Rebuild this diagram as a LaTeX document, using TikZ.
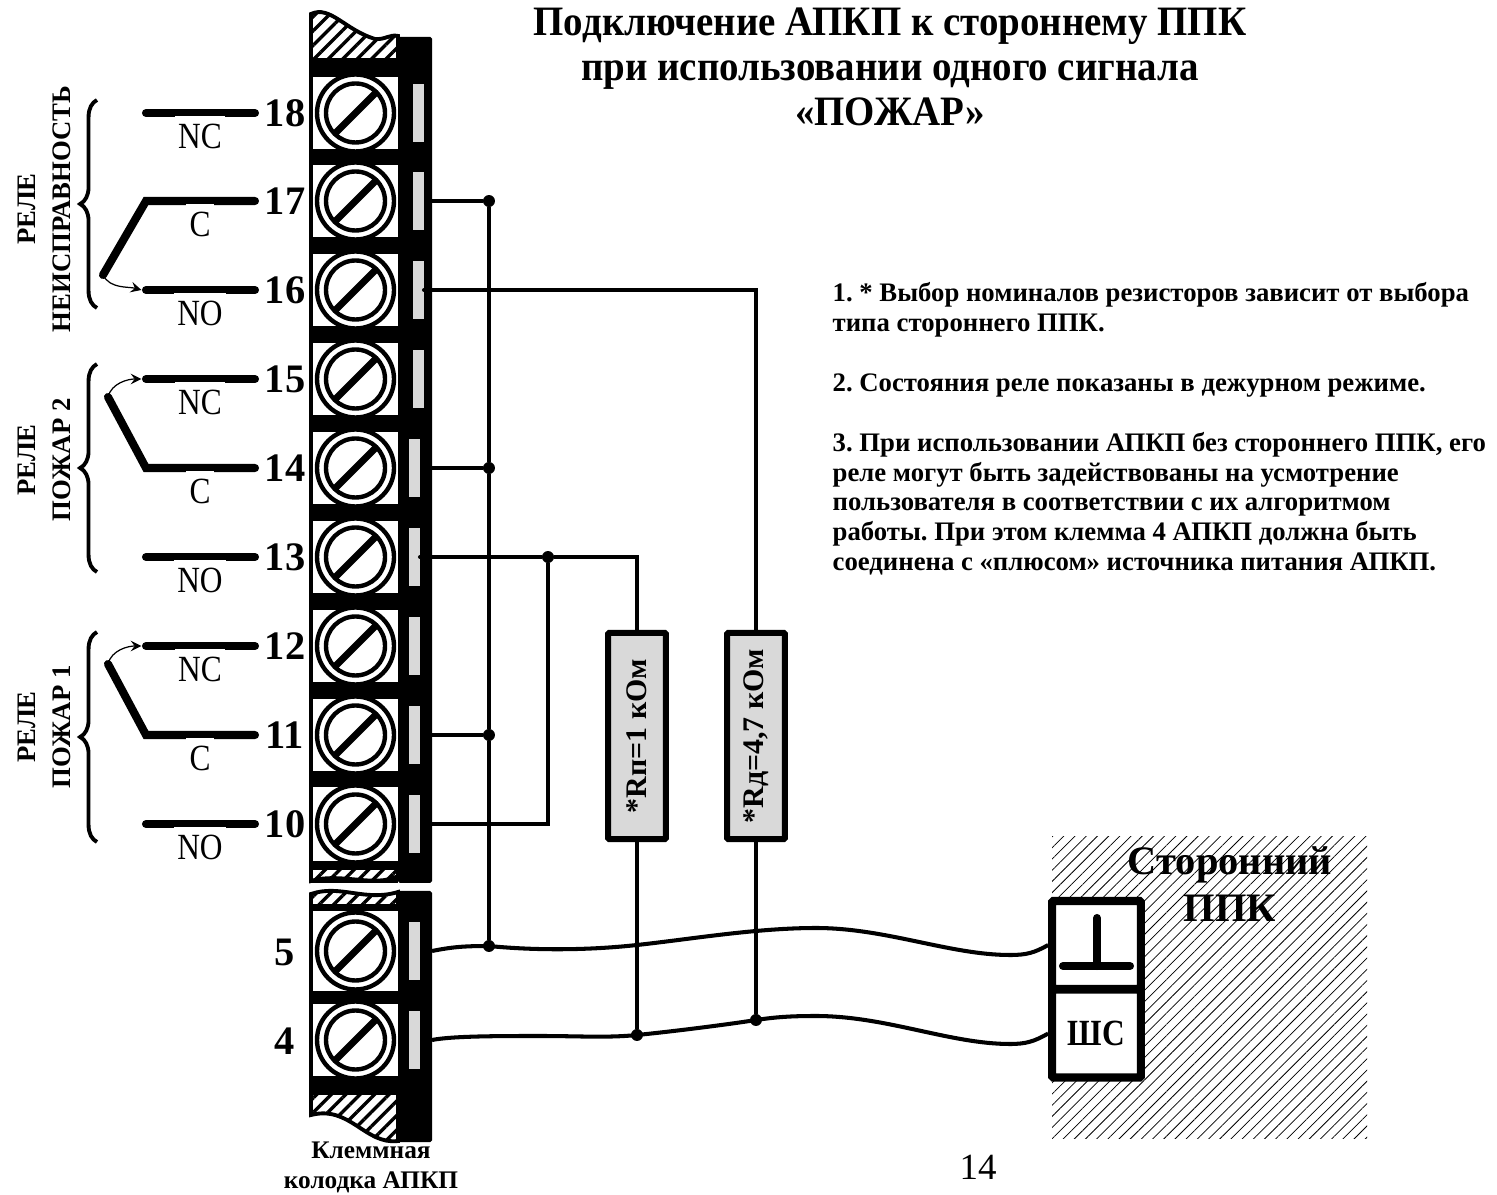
\documentclass[tikz,border=0pt]{standalone}
\usepackage{fontspec}
\setmainfont{Liberation Serif}
\newfontfamily\labfont[FakeStretch=0.85]{Liberation Serif}
\newfontfamily\titlefont[FakeStretch=0.93]{Liberation Serif}
\usetikzlibrary{patterns.meta,decorations.pathreplacing}
\definecolor{stripgray}{HTML}{D9D9D9}
\tikzset{
  wire/.style={line width=1.15pt,line cap=round},
  contact/.style={line width=2.3pt,line cap=round,line join=miter},
  dot/.style={circle,fill=black,inner sep=0pt,minimum size=3.4pt},
  termlabel/.style={font=\bfseries\fontsize{11.5}{12}\selectfont,inner sep=0pt},
  sidelabel/.style={font=\bfseries\fontsize{7.6}{9.9}\selectfont,rotate=90,align=center,inner sep=0pt},
  contactlabel/.style={font=\labfont\fontsize{10.5}{12}\selectfont,fill=white,anchor=north,inner xsep=1pt,inner ysep=2.4pt},
  resistor/.style={draw,line width=1.7pt,fill=stripgray,rounded corners=0.3pt,rotate=90,minimum width=58.7pt,minimum height=16.4pt,inner sep=0pt,font=\bfseries\fontsize{8.5}{10}\selectfont},
  ppkbox/.style={draw,line width=2.3pt,fill=white,rounded corners=0.3pt,minimum width=25.2pt,minimum height=25pt,inner sep=0pt},
  hatch/.style={pattern={Lines[angle=45,distance=2.9pt,line width=0.95pt]}},
  relaybrace/.style={line width=1.1pt,decorate,decoration={brace,amplitude=4.8pt,aspect=0.5}}
}
\begin{document}
\begin{tikzpicture}[x=0.01cm,y=-0.01cm,>=stealth]
\useasboundingbox (0,0) rectangle (1497,1195);

% Заголовок и примечания
\node[font=\titlefont\bfseries\fontsize{11.9}{12.76}\selectfont,align=center,inner sep=0pt] (title) at (890,67) {Подключение АПКП к стороннему ППК\\при использовании одного сигнала\\«ПОЖАР»};
\node[font=\frenchspacing\bfseries\fontsize{7.6}{8.5}\selectfont,align=left,inner sep=0pt,anchor=west] (notes) at (832,429) {1. * Выбор номиналов резисторов зависит от выбора\\типа стороннего ППК.\\[8.5pt]2. Состояния реле показаны в дежурном режиме.\\[8.5pt]3. При использовании АПКП без стороннего ППК, его\\реле могут быть задействованы на усмотрение\\пользователя в соответствии с их алгоритмом\\работы. При этом клемма 4 АПКП должна быть\\соединена с «плюсом» источника питания АПКП.};
\node[font=\fontsize{10.5}{12}\selectfont,inner sep=0pt] (pagenum) at (978,1167) {14};
\node[font=\bfseries\fontsize{7.2}{8.5}\selectfont,align=center,inner sep=0pt] (blockname) at (371,1167) {Клеммная\\колодка АПКП};

% Штриховка стороннего ППК
\fill[pattern={Lines[angle=45,distance=2.25pt,line width=0.22pt]}] (1052,837) rectangle (1367,1138);
\node[font=\bfseries\fontsize{11.5}{13.4}\selectfont,align=center,inner sep=0pt] (ppk) at (1230,884) {Сторонний\\ППК};

% Корпус клеммной колодки
\fill[rounded corners=0.5pt] (398,37) rectangle (432,883);
\fill (309,60) rectangle (398,883);
\fill[rounded corners=0.5pt] (398,891) rectangle (432,1142);
\fill (309,906) rectangle (398,1093);

% Обрывы колодки
\filldraw[fill=white,line width=1.1pt] (311,60) -- (311,14) .. controls (330,5) and (345,30) .. (375,39) .. controls (385,40) and (390,34) .. (398,36) -- (398,60) -- cycle;
\fill[hatch] (311,60) -- (311,14) .. controls (330,5) and (345,30) .. (375,39) .. controls (385,40) and (390,34) .. (398,36) -- (398,60) -- cycle;
\filldraw[fill=white,line width=1.1pt] (311,868) -- (398,868) -- (398,876) .. controls (375,888) and (340,872) .. (311,881) -- cycle;
\fill[hatch] (311,868) -- (398,868) -- (398,876) .. controls (375,888) and (340,872) .. (311,881) -- cycle;
\filldraw[fill=white,line width=1.1pt] (311,906) -- (311,894) .. controls (340,884) and (365,902) .. (398,892) -- (398,906) -- cycle;
\fill[hatch] (311,906) -- (311,894) .. controls (340,884) and (365,902) .. (398,892) -- (398,906) -- cycle;
\filldraw[fill=white,line width=1.1pt] (311,1093) -- (398,1093) -- (398,1141) .. controls (365,1145) and (350,1105) .. (311,1115) -- cycle;
\fill[hatch] (311,1093) -- (398,1093) -- (398,1141) .. controls (365,1145) and (350,1105) .. (311,1115) -- cycle;

% Клеммы
\foreach \n/\y/\sx/\h in {18/113/418/20.7,17/201/418/20.7,16/290/418/20.7,15/379/418/20.7,14/468/414/20.7,13/557/414/20.7,12/646/414/20.7,11/735/414/20.7,10/824/414/21.3,5/951/414/22.6,4/1040/414/20.7}{
  \node[fill=white,minimum width=24.1pt,minimum height=\h pt,inner sep=0pt] (t\n) at (355.5,\y) {};
  \draw[line width=1.25pt,fill=white] (355.5,\y) circle[radius=38.5];
  \draw[line width=1.25pt] (355.5,\y) circle[radius=29.5];
  \draw[line width=2pt] (333.5,\y+22) -- (377.5,\y-22);
  \fill[stripgray] (\sx-5.5,\y-29) rectangle (\sx+5.5,\y+29);
  \coordinate (p\n) at (432,\y);
}
\foreach \n/\y in {18/113,17/201,16/290,15/379,14/468,13/557,12/646,11/735,10/824}
  \node[termlabel] (n\n) at (285,\y) {\n};
\node[termlabel] (n5) at (285,952) {5};
\node[termlabel] (n4) at (285,1041) {4};

% Контакты реле
\foreach \n/\y in {18/113,17/201,16/290,15/379,14/468,13/557,12/646,11/735,10/824}{
  \coordinate (a\n) at (146,\y);
  \coordinate (b\n) at (255,\y);
}
\coordinate (arm17) at (103,275);
\coordinate (arm14) at (108,397);
\coordinate (arm11) at (108,664);
\draw[contact] (a18) -- (b18);
\draw[contact] (arm17) -- (a17) -- (b17);
\draw[contact] (a16) -- (b16);
\draw[contact] (a15) -- (b15);
\draw[contact] (arm14) -- (a14) -- (b14);
\draw[contact] (a13) -- (b13);
\draw[contact] (a12) -- (b12);
\draw[contact] (arm11) -- (a11) -- (b11);
\draw[contact] (a10) -- (b10);
\foreach \n/\y/\lab in {18/113/NC,17/201/C,16/290/NO,15/379/NC,14/468/C,13/557/NO,12/646/NC,11/735/C,10/824/NO}
  \node[contactlabel] (l\n) at (200,\y+2) {\lab};
\draw[->,line width=0.35pt] (arm17) .. controls ([xshift=2pt,yshift=-4pt]arm17) and ([xshift=-5pt,yshift=1pt]a16) .. ([xshift=-1.3pt]a16);
\draw[->,line width=0.35pt] (arm14) .. controls ([xshift=1pt,yshift=4pt]arm14) and ([xshift=-5pt]a15) .. ([xshift=-1.3pt]a15);
\draw[->,line width=0.35pt] (arm11) .. controls ([xshift=1pt,yshift=4pt]arm11) and ([xshift=-5pt]a12) .. ([xshift=-1.3pt]a12);

% Скобки и подписи реле
\draw[relaybrace] (97,308) -- (97,100);
\draw[relaybrace] (97,572) -- (97,364);
\draw[relaybrace] (97,842) -- (97,632);
\node[sidelabel] (relay3) at (44,209) {РЕЛЕ\\НЕИСПРАВНОСТЬ};
\node[sidelabel] (relay2) at (44,460) {РЕЛЕ\\ПОЖАР 2};
\node[sidelabel] (relay1) at (44,727) {РЕЛЕ\\ПОЖАР 1};

% Резисторы и сторонний ППК
\node[resistor] (rp) at (637,736) {*Rп=1 кОм};
\node[resistor] (rd) at (756,736) {*Rд=4,7 кОм};
\node[ppkbox] (gnd) at (1096.5,945) {};
\node[ppkbox,font=\labfont\bfseries\fontsize{10.5}{13}\selectfont] (shs) at (1096.5,1033.5) {ШС};
\draw[contact] (1097,918) -- (1097,966) (1063,966) -- (1130,966);

% Соединения
\node[dot] (j17) at (489,201) {};
\node[dot] (j14) at (489,468) {};
\node[dot] (j11) at (489,735) {};
\node[dot] (j5) at (489,946) {};
\node[dot] (j13) at (548,557) {};
\node[dot] (jrp) at (637,1035) {};
\node[dot] (jrd) at (756,1020) {};
\coordinate (s16) at (424,290);
\coordinate (s13) at (420,557);
\draw[wire] (p17) -- (j17) -- (j14) -- (j11) -- (j5);
\draw[wire] (p14) -- (j14);
\draw[wire] (p11) -- (j11);
\draw[wire] (s16) -| (rd.east);
\draw[wire] (s13) -- (j13) -| (rp.east);
\draw[wire] (p10) -| (j13);
\draw[wire] (rp.west) -- (jrp);
\draw[wire] (rd.west) -- (jrd);
\coordinate (w5b) at (637,945);
\coordinate (w5d) at (816,928);
\coordinate (w5e) at (1010,955);
\coordinate (w4d) at (816,1016);
\coordinate (w4e) at (1010,1044);
\draw[wire,line cap=butt] (p5) .. controls +(20,-4) and +(-25,0) .. (j5.center) .. controls +(40,4) and +(-55,6) .. (w5b) .. controls +(55,-6) and +(-60,0) .. (w5d) .. controls +(70,0) and +(-60,0) .. (w5e) .. controls +(16,0) and +(-14,8) .. (gnd.west);
\draw[wire,line cap=butt] (p4) .. controls +(20,-4) and +(-40,0) .. (540,1036) .. controls +(40,0) and +(-30,3) .. (jrp.center) .. controls +(40,-4) and +(-25,4) .. (jrd.center) .. controls +(20,-3) and +(-25,0) .. (w4d) .. controls +(70,0) and +(-60,0) .. (w4e) .. controls +(16,0) and +(-14,8) .. (shs.west);
\end{tikzpicture}
\end{document}
